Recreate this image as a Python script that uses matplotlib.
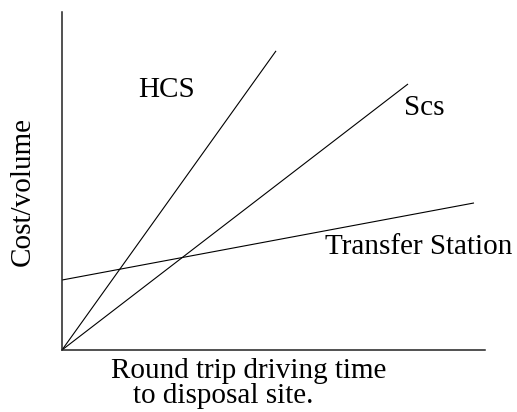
import matplotlib
matplotlib.use("Agg")
import matplotlib.pyplot as plt

plt.rcParams['font.family'] = ['Liberation Serif', 'DejaVu Serif']

# line end points (arbitrary units, axes 0..10)
hcs_x = [0, 5.06]
hcs_y = [0, 8.85]
scs_x = [0, 8.18]
scs_y = [0, 7.87]
ts_x = [0, 9.74]
ts_y = [2.07, 4.35]

labels = ['HCS', 'Scs', 'Transfer Station']
label_pos = [(1.80, 7.49), (8.09, 6.95), (6.22, 2.84)]

fig = plt.figure(figsize=(5.17, 4.12), dpi=100)
ax = fig.add_axes([0.1199, 0.1505, 0.8182, 0.8204])

for xs, ys in [(hcs_x, hcs_y), (scs_x, scs_y), (ts_x, ts_y)]:
    ax.plot(xs, ys, color='black', lw=0.8, solid_capstyle='butt')

for lab, (x, y) in zip(labels, label_pos):
    ax.text(x, y, lab, fontsize=21, ha='left', va='baseline')

ax.set_xlim(0, 10)
ax.set_ylim(0, 10)
ax.set_xticks([])
ax.set_yticks([])
ax.spines['top'].set_visible(False)
ax.spines['right'].set_visible(False)
for s in ['left', 'bottom']:
    ax.spines[s].set_linewidth(1.1)
    ax.spines[s].set_color('#222222')

fig.text(0.2147, 0.0825, 'Round trip driving time', fontsize=21, ha='left', va='baseline')
fig.text(0.2573, 0.0218, 'to disposal site.', fontsize=21, ha='left', va='baseline')
fig.text(0.0435, 0.534, 'Cost/volume', fontsize=21, rotation=90, ha='center', va='center')

fig.savefig('out.png', dpi=100)
